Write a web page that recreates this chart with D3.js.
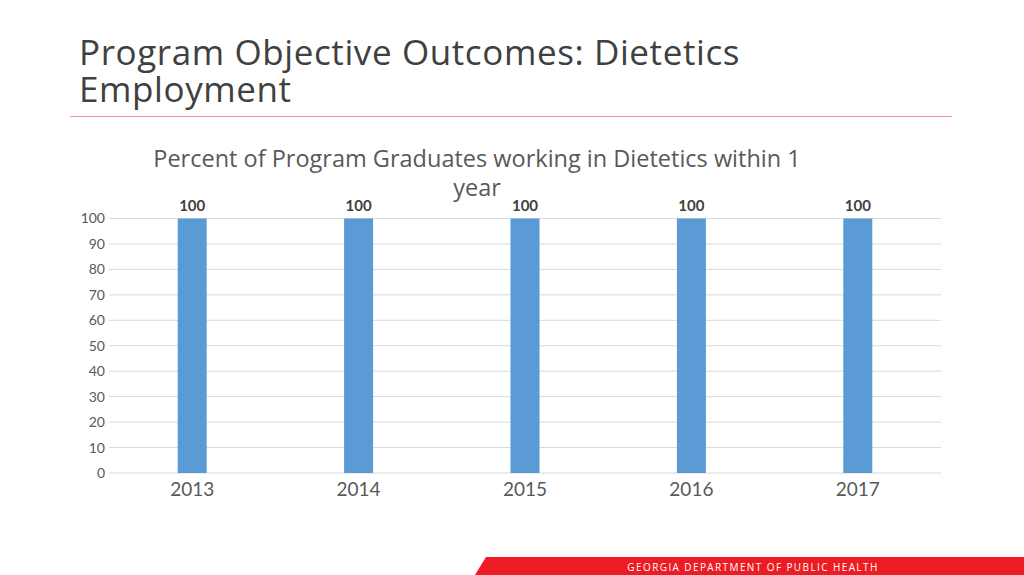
<!DOCTYPE html>
<html>
<head>
<meta charset="utf-8">
<script src="https://cdn.jsdelivr.net/npm/d3@7"></script>
<style>
  body { margin: 0; background: #fff; }
  svg { display: block; }
</style>
</head>
<body>
<div id="chart"></div>
<script>
const width = 1024;
const height = 575;

// chart data
const years = ["2013", "2014", "2015", "2016", "2017"];
const percents = [100, 100, 100, 100, 100];
const yTicks = [0, 10, 20, 30, 40, 50, 60, 70, 80, 90, 100];

const svg = d3.select("#chart")
  .append("svg")
  .attr("width", width)
  .attr("height", height);

// slide title
const title = svg.append("text")
  .attr("x", 79)
  .attr("y", 65)
  .attr("font-family", "'Open Sans', sans-serif")
  .attr("font-size", 35)
  .attr("letter-spacing", 0.6)
  .attr("fill", "#404040");
title.append("tspan").attr("x", 79).text("Program Objective Outcomes: Dietetics");
title.append("tspan").attr("x", 79).attr("dy", 37).text("Employment");

svg.append("line")
  .attr("x1", 70).attr("x2", 952)
  .attr("y1", 116.5).attr("y2", 116.5)
  .attr("stroke", "#ef9a9a")
  .attr("stroke-width", 1);

// chart title
const ct = svg.append("text")
  .attr("text-anchor", "middle")
  .attr("font-family", "'Open Sans', sans-serif")
  .attr("font-size", 23.5)
  .attr("fill", "#595959");
ct.append("tspan").attr("x", 477).attr("y", 167).text("Percent of Program Graduates working in Dietetics within 1");
ct.append("tspan").attr("x", 477).attr("y", 196).text("year");

// plot area
const x = d3.scaleBand()
  .domain(years)
  .range([109, 941]);

const y = d3.scaleLinear()
  .domain([0, 100])
  .range([473, 218.5]);

// gridlines
svg.append("g")
  .selectAll("line")
  .data(yTicks)
  .join("line")
  .attr("x1", 109).attr("x2", 941)
  .attr("y1", d => y(d)).attr("y2", d => y(d))
  .attr("stroke", "#d9d9d9")
  .attr("stroke-width", 1);

// y axis labels
const yAxis = svg.append("g")
  .attr("transform", "translate(109,0)")
  .call(d3.axisLeft(y).tickValues(yTicks).tickSize(0).tickPadding(4));
yAxis.select(".domain").remove();
yAxis.selectAll("text")
  .attr("font-family", "Lato, sans-serif")
  .attr("font-size", 14)
  .attr("fill", "#595959");

// x axis labels
const xAxis = svg.append("g")
  .attr("transform", "translate(0,473)")
  .call(d3.axisBottom(x).tickSize(0).tickPadding(10));
xAxis.select(".domain").remove();
xAxis.selectAll("text")
  .attr("font-family", "Lato, sans-serif")
  .attr("font-size", 19)
  .attr("fill", "#595959");

// bars
const barW = 29;
svg.append("g")
  .selectAll("rect")
  .data(years)
  .join("rect")
  .attr("x", (d) => x(d) + x.bandwidth() / 2 - barW / 2)
  .attr("y", (d, i) => y(percents[i]))
  .attr("width", barW)
  .attr("height", (d, i) => y(0) - y(percents[i]))
  .attr("fill", "#5b9bd5");

// value labels
svg.append("g")
  .selectAll("text")
  .data(years)
  .join("text")
  .attr("x", d => x(d) + x.bandwidth() / 2)
  .attr("y", (d, i) => y(percents[i]) - 8)
  .attr("text-anchor", "middle")
  .attr("font-family", "Lato, sans-serif")
  .attr("font-weight", "bold")
  .attr("font-size", 15)
  .attr("fill", "#404040")
  .text((d, i) => percents[i]);

// footer band
svg.append("path")
  .attr("d", "M486,557 L1024,557 L1024,575 L475,575 Z")
  .attr("fill", "#ed1c24");

svg.append("text")
  .attr("x", 753)
  .attr("y", 570.5)
  .attr("text-anchor", "middle")
  .attr("font-family", "'Open Sans', sans-serif")
  .attr("font-size", 10)
  .attr("letter-spacing", 1.4)
  .attr("fill", "#fff")
  .text("GEORGIA DEPARTMENT OF PUBLIC HEALTH");
</script>
</body>
</html>
